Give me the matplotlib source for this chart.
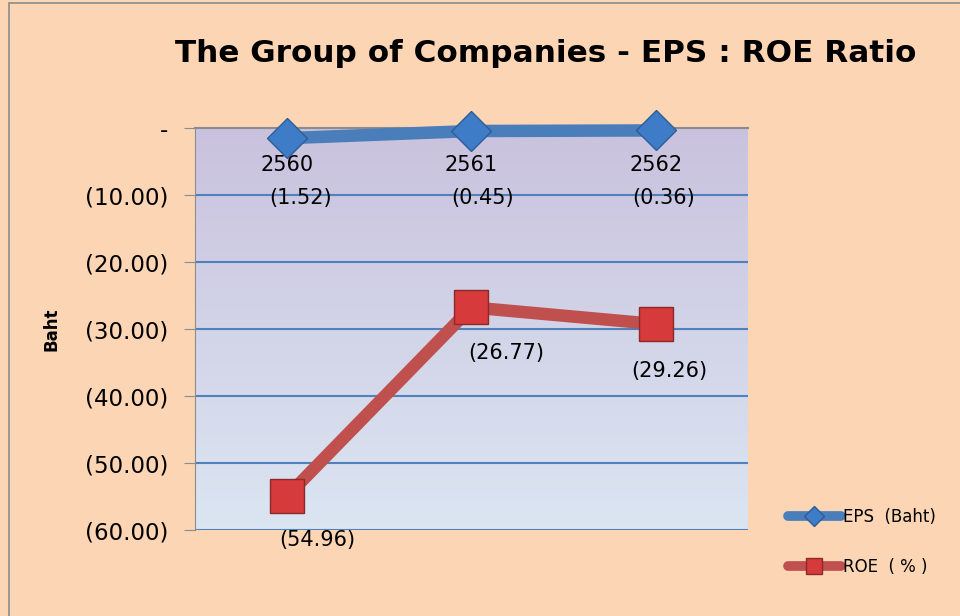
import matplotlib.pyplot as plt
import matplotlib.patches as mpatches
import numpy as np

# data
years = ['2560', '2561', '2562']
eps = [-1.52, -0.45, -0.36]
roe = [-54.96, -26.77, -29.26]
yticks = [0, -10, -20, -30, -40, -50, -60]

fig = plt.figure(figsize=(9.6, 6.16), dpi=100)
fig.patch.set_facecolor('#FCD5B4')
ax = fig.add_axes([0.203, 0.1396, 0.576, 0.6526])

# frame around the chart
fig.patches.append(mpatches.Rectangle((9/960, -0.01), 1.0, 1.0 - 3/616 + 0.01,
                                      transform=fig.transFigure, fill=False,
                                      edgecolor='#8c8c8c', lw=1.2))

# gradient plot area
grad = np.linspace(0, 1, 256).reshape(-1, 1)
top = np.array([0.79, 0.76, 0.87])
bot = np.array([0.86, 0.90, 0.95])
cols = top[None, :] + (bot - top)[None, :] * grad
ax.imshow(cols[:, None, :], extent=[-0.5, 2.5, -60, 0], aspect='auto', zorder=0)

x = np.arange(len(years))
ax.set_xlim(-0.5, 2.5)
ax.set_ylim(-60, 0)

for v in yticks[1:]:
    ax.axhline(v, color='#4F81BD', lw=1.5, zorder=1)

ax.plot(x, eps, color='#4A7EBB', lw=9, marker='D', markersize=20,
        markerfacecolor='#3F7CC8', markeredgecolor='#2E5C97', markeredgewidth=1,
        zorder=4, label='EPS  (Baht)', solid_capstyle='round', clip_on=False)
ax.plot(x, roe, color='#C0504D', lw=9, marker='s', markersize=24,
        markerfacecolor='#D63A3A', markeredgecolor='#8B2A28', markeredgewidth=1,
        zorder=4, label='ROE  ( % )', solid_capstyle='round', clip_on=False)

# category labels just under the zero line
for i, yr in enumerate(years):
    ax.annotate(yr, (i, 0), xytext=(0, -37), textcoords='offset pixels',
                ha='center', va='center', fontsize=15, zorder=5)

eps_off = [(14, -60), (11, -67), (8, -68)]
for i, v in enumerate(eps):
    ax.annotate('(%.2f)' % abs(v), (i, v), xytext=eps_off[i], textcoords='offset pixels',
                ha='center', va='center', fontsize=15, zorder=5)

roe_off = [(30, -44), (35, -46), (14, -47)]
for i, v in enumerate(roe):
    ax.annotate('(%.2f)' % abs(v), (i, v), xytext=roe_off[i], textcoords='offset pixels',
                ha='center', va='center', fontsize=15, zorder=5)

ax.set_xticks([])
ax.set_yticks(yticks)
ax.set_yticklabels(['-' if v == 0 else '(%.2f)' % abs(v) for v in yticks], fontsize=16.5)
ax.tick_params(axis='y', length=8, color='#8c8c8c', pad=11)
for s in ['right', 'bottom']:
    ax.spines[s].set_visible(False)
ax.spines['left'].set_color('#8c8c8c')
ax.spines['top'].set_color('#8c8c8c')
ax.spines['top'].set_linewidth(1.5)

ax.set_ylabel('Baht', fontsize=12, fontweight='bold', labelpad=18)

fig.text(0.568, 0.913, 'The Group of Companies - EPS : ROE Ratio', ha='center',
         va='center', fontsize=22.4, fontweight='bold')

leg = fig.legend(loc='center left', bbox_to_anchor=(0.805, 0.12), frameon=False,
                 fontsize=12, handlelength=3.2, labelspacing=1.9, markerscale=0.5,
                 handletextpad=0.1)
for h in leg.get_lines():
    h.set_linewidth(7)

plt.savefig('out.png', dpi=100, facecolor=fig.get_facecolor())
